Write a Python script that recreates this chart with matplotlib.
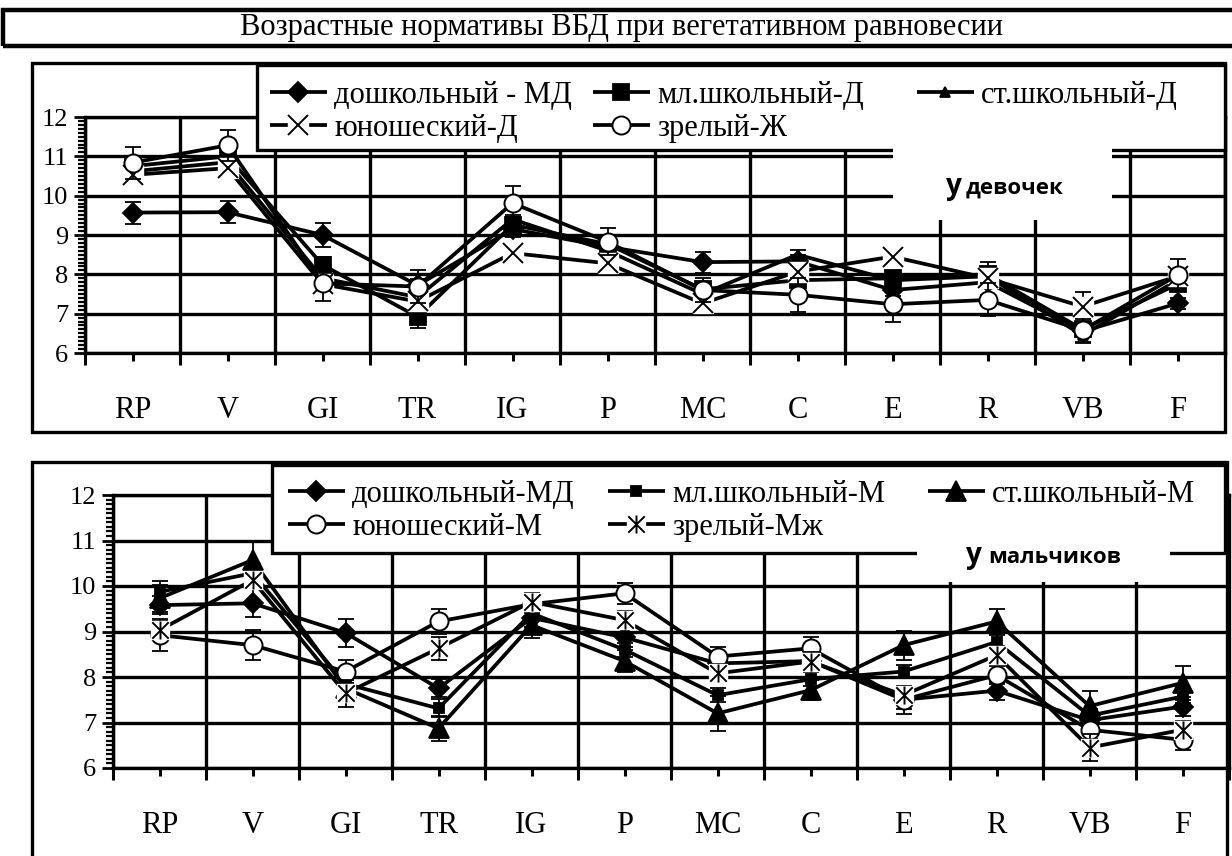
import matplotlib
matplotlib.use('Agg')
import matplotlib.pyplot as plt
from matplotlib.path import Path
from matplotlib.patches import Rectangle
from matplotlib.legend_handler import HandlerTuple
import numpy as np

# ---------------- data ----------------
title = 'Возрастные нормативы ВБД при вегетативном равновесии'
categories = ['RP', 'V', 'GI', 'TR', 'IG', 'P', 'MC', 'C', 'E', 'R', 'VB', 'F']

girls_labels = ['дошкольный - МД', 'мл.школьный-Д', 'ст.школьный-Д', 'юношеский-Д', 'зрелый-Ж']
g_pre = [9.57, 9.58, 9.00, 7.72, 9.15, 8.70, 8.31, 8.33, 7.60, 7.80, 6.55, 7.26]
g_jun = [10.75, 11.00, 8.24, 6.92, 9.26, 8.77, 7.62, 7.85, 7.90, 8.00, 6.60, 7.75]
g_sen = [10.62, 10.85, 7.90, 7.42, 9.40, 8.60, 7.50, 8.50, 7.85, 7.95, 6.45, 7.85]
g_yth = [10.53, 10.70, 7.75, 7.31, 8.54, 8.28, 7.26, 8.07, 8.45, 7.90, 7.18, 7.95]
g_mat = [10.84, 11.28, 7.77, 7.69, 9.81, 8.83, 7.60, 7.48, 7.24, 7.35, 6.58, 7.98]
e_g_pre = [0.28, 0.28, 0.30, 0.15, 0.20, 0.20, 0.27, 0.15, 0.15, 0.15, 0.15, 0.15]
e_g_jun = [0.20, 0.20, 0.21, 0.28, 0.20, 0.15, 0.15, 0.15, 0.15, 0.15, 0.15, 0.15]
e_g_sen = [0.10, 0.10, 0.10, 0.10, 0.10, 0.10, 0.10, 0.12, 0.10, 0.10, 0.20, 0.10]
e_g_yth = [0.15, 0.15, 0.15, 0.15, 0.15, 0.15, 0.15, 0.15, 0.15, 0.42, 0.38, 0.15]
e_g_mat = [0.41, 0.39, 0.46, 0.42, 0.44, 0.35, 0.30, 0.43, 0.46, 0.42, 0.29, 0.41]

boys_labels = ['дошкольный-МД', 'мл.школьный-М', 'ст.школьный-М', 'юношеский-М', 'зрелый-Мж']
b_pre = [9.58, 9.62, 8.97, 7.75, 9.30, 8.87, 8.30, 8.35, 7.50, 7.70, 7.05, 7.35]
b_jun = [9.87, 10.28, 7.85, 7.31, 9.40, 8.60, 7.60, 7.95, 8.12, 8.77, 7.15, 7.57]
b_sen = [9.73, 10.57, 7.75, 6.87, 9.14, 8.35, 7.20, 7.71, 8.70, 9.22, 7.36, 7.87]
b_yth = [8.92, 8.70, 8.12, 9.22, 9.60, 9.84, 8.45, 8.63, 7.50, 8.04, 6.84, 6.62]
b_mat = [9.03, 10.13, 7.64, 8.63, 9.65, 9.25, 8.08, 8.34, 7.60, 8.48, 6.45, 6.84]
e_b_pre = [0.20, 0.31, 0.30, 0.20, 0.20, 0.20, 0.20, 0.20, 0.20, 0.20, 0.20, 0.20]
e_b_jun = [0.25, 0.20, 0.15, 0.20, 0.15, 0.15, 0.15, 0.15, 0.15, 0.15, 0.15, 0.15]
e_b_sen = [0.30, 0.43, 0.20, 0.28, 0.28, 0.25, 0.38, 0.22, 0.32, 0.27, 0.33, 0.37]
e_b_yth = [0.35, 0.33, 0.25, 0.27, 0.20, 0.23, 0.21, 0.24, 0.31, 0.20, 0.20, 0.22]
e_b_mat = [0.20, 0.20, 0.29, 0.25, 0.20, 0.20, 0.20, 0.20, 0.20, 0.20, 0.30, 0.20]

girls_note = ('у', 'девочек')
boys_note = ('у', 'мальчиков')

# ---------------- styling ----------------
W, H = 1232, 856
SERIF = ['Liberation Serif', 'DejaVu Serif']
SANS = ['Open Sans', 'DejaVu Sans']
plt.rcParams['font.family'] = SERIF

ast = Path([(-0.5, -0.5), (0.5, 0.5), (-0.5, 0.5), (0.5, -0.5), (0, -0.55), (0, 0.55)],
           [Path.MOVETO, Path.LINETO, Path.MOVETO, Path.LINETO, Path.MOVETO, Path.LINETO])

fig = plt.figure(figsize=(W / 100, H / 100), dpi=100)


def fx(x):
    return x / W


def fy(y):
    return 1 - y / H


def rect(x0, y0, x1, y1, lw=0, fc='none', ec='black', z=2):
    fig.add_artist(Rectangle((fx(x0), fy(y1)), fx(x1) - fx(x0), fy(y0) - fy(y1),
                             transform=fig.transFigure, fc=fc, ec=ec, lw=lw, zorder=z))


def draw_series(ax, y, err, st, z):
    x = np.arange(len(categories))
    ax.errorbar(x, y, yerr=err, fmt='none', ecolor='black', elinewidth=1.3,
                capsize=5.5, capthick=1.3, zorder=z)
    line, = ax.plot(x, y, color='black', lw=st.get('lw', 2.7), zorder=z + 0.1,
                    solid_capstyle='butt')
    hs = [line]
    if st.get('bg'):
        bg, = ax.plot(x, y, ls='none', marker='s', ms=st['bg'], mfc='white', mec='white',
                      zorder=z + 0.2)
        hs.append(bg)
    mk, = ax.plot(x, y, ls='none', marker=st['m'], ms=st['ms'], mfc=st['fc'], mec='black',
                  mew=st.get('mew', 1.3), zorder=z + 0.3)
    hs.append(mk)
    return tuple(hs)


def setup_axes(ax):
    ax.set_xlim(-0.5, len(categories) - 0.5)
    ax.set_ylim(6, 12)
    ax.set_yticks(range(6, 13))
    ax.set_yticks(np.arange(6, 12.01, 0.1), minor=True)
    ax.set_xticks(np.arange(-0.5, len(categories)))
    ax.set_xticklabels([])
    ax.set_xticks(np.arange(len(categories)), minor=True)
    ax.set_xticklabels(categories, minor=True, fontsize=22)
    ax.tick_params(axis='y', which='major', direction='out', length=8, width=2, labelsize=19, pad=4)
    ax.tick_params(axis='y', which='minor', direction='out', length=5, width=1.6)
    ax.tick_params(axis='x', which='major', direction='out', length=8.5, width=2.2)
    ax.tick_params(axis='x', which='minor', direction='out', length=6, width=2.2, pad=25)
    ax.grid(True, which='major', color='black', lw=2.4)
    ax.set_axisbelow(True)
    for s in ax.spines.values():
        s.set_linewidth(2.4)


def add_legend(handles, labels, box, col_x, row_top):
    x0, y0, x1, y1 = box
    rect(x0, y0, x1, y1, lw=2.4, fc='white', ec='black', z=3)
    columns = [[0, 3], [1, 4], [2]]
    for cx, idx in zip(col_x, columns):
        leg = fig.legend([handles[i] for i in idx], [labels[i] for i in idx],
                         handler_map={tuple: HandlerTuple(ndivide=1)},
                         loc='upper left', bbox_to_anchor=(fx(cx), fy(row_top)),
                         bbox_transform=fig.transFigure, ncol=1, fontsize=22,
                         frameon=False, handlelength=1.85, handletextpad=0.25,
                         labelspacing=0.12, borderpad=0, borderaxespad=0, numpoints=1)
        leg.set_zorder(4)


# title
rect(3, 10, 1260, 46, lw=3.2)
fig.text(fx(622), fy(28), title, ha='center', va='center', fontsize=22, family=SERIF)

# ---------------- top chart (girls) ----------------
rect(32, 63, 1225, 432, lw=2.4)
ax1 = fig.add_axes([fx(85), fy(353), fx(1225) - fx(85), fy(117) - fy(353)])
setup_axes(ax1)
gst = [dict(m='D', ms=10, fc='black'),
       dict(m='s', ms=12, fc='black'),
       dict(m='^', ms=7, fc='black'),
       dict(m='x', ms=14, fc='none', mew=1.4, bg=14),
       dict(m='o', ms=13, fc='white', mew=1.4)]
gdata = [(g_pre, e_g_pre), (g_jun, e_g_jun), (g_sen, e_g_sen), (g_yth, e_g_yth), (g_mat, e_g_mat)]
gh = [draw_series(ax1, d, e, s, 3 + i) for i, ((d, e), s) in enumerate(zip(gdata, gst))]
add_legend(gh, girls_labels, (257, 65, 1225, 150), (270, 593, 917), 81)
rect(893, 146, 1112, 220, fc='white', ec='none', z=5)
fig.text(fx(946), fy(194), girls_note[0], fontsize=20, fontweight='bold', family=SANS,
         ha='left', va='baseline', zorder=6)
fig.text(fx(966), fy(194), girls_note[1], fontsize=16, fontweight='bold', family=SANS,
         ha='left', va='baseline', zorder=6)

# ---------------- bottom chart (boys) ----------------
rect(32, 462, 1227, 870, lw=2.4)
ax2 = fig.add_axes([fx(113), fy(768), fx(1229) - fx(113), fy(495) - fy(768)])
setup_axes(ax2)
bst = [dict(m='D', ms=10.5, fc='black'),
       dict(m='s', ms=7, fc='black'),
       dict(m='^', ms=15, fc='black'),
       dict(m='o', ms=13, fc='white', mew=1.4),
       dict(m=ast, ms=13, fc='none', mew=1.4, bg=13)]
bdata = [(b_pre, e_b_pre), (b_jun, e_b_jun), (b_sen, e_b_sen), (b_yth, e_b_yth), (b_mat, e_b_mat)]
bh = [draw_series(ax2, d, e, s, 3 + i) for i, ((d, e), s) in enumerate(zip(bdata, bst))]
add_legend(bh, boys_labels, (272, 465, 1225, 553), (288, 608, 928), 480)
rect(917, 530, 1170, 582, fc='white', ec='none', z=5)
fig.text(fx(966), fy(563), boys_note[0], fontsize=20, fontweight='bold', family=SANS,
         ha='left', va='baseline', zorder=6)
fig.text(fx(988), fy(563), boys_note[1], fontsize=16, fontweight='bold', family=SANS,
         ha='left', va='baseline', zorder=6)

fig.savefig('out.png', dpi=100)
